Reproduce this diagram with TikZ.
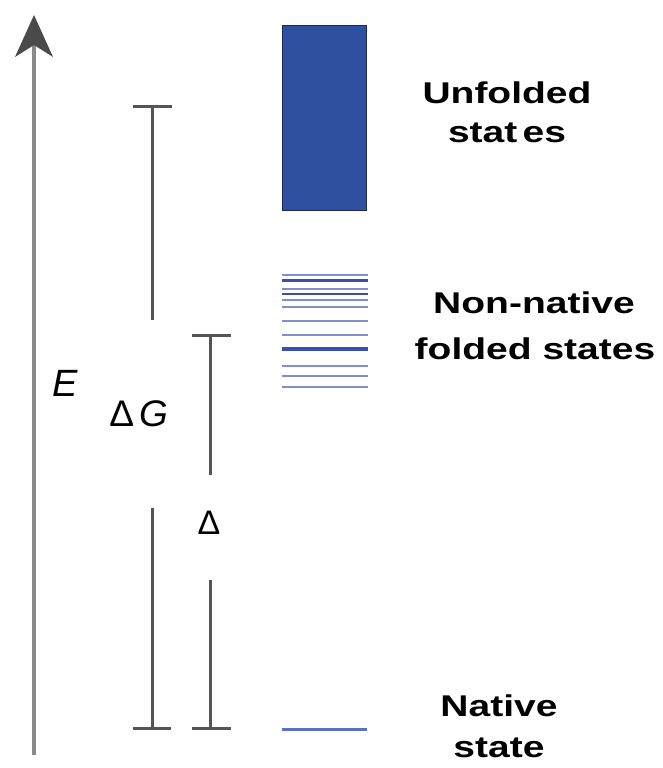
\documentclass[tikz,border=0pt]{standalone}
\usepackage{fontspec}
\setmainfont{Liberation Sans}
\definecolor{bargray}{HTML}{555555}
\definecolor{axgray}{HTML}{8A8A8A}
\definecolor{headgray}{HTML}{4A4A4A}
\definecolor{boxblue}{HTML}{2F4FA0}
\definecolor{boxedge}{HTML}{1E2A55}
\definecolor{lvlight}{HTML}{7F8FD0}
\definecolor{lvdark}{HTML}{3A50B0}
\definecolor{nativeblue}{HTML}{5A70C8}
\tikzset{
  bar/.style={draw=bargray, line width=3pt},
  lvl/.style={draw=lvlight, line width=2pt},
  lvlthick/.style={draw=lvdark, line width=3.2pt},
  lbl/.style={font=\fontsize{30}{36}\selectfont\bfseries, anchor=base, inner sep=0pt},
  sym/.style={font=\fontsize{37}{40}\selectfont, inner sep=0pt},
}
\newcommand{\wide}[1]{\scalebox{1.3}[1]{#1}}
\begin{document}
\begin{tikzpicture}[x=1pt,y=-1pt]
\useasboundingbox (0,0) rectangle (663,768);
% energy axis
\coordinate (axbot) at (34,755);
\coordinate (axtop) at (34,45);
\draw[draw=axgray, line width=3.5pt] (axbot) -- (axtop);
\fill[headgray] (34,15) -- (53,57) -- (34,45) -- (15,57) -- cycle;
\node[sym, font=\fontsize{38}{40}\selectfont\itshape] (E) at (65,383) {E};

% Delta G bar
\coordinate (g1) at (152,106);
\coordinate (g2) at (152,320);
\coordinate (g3) at (152,508);
\coordinate (g4) at (152,728);
\draw[bar] (133,106) -- (172,106);
\draw[bar] (g1) -- (g2);
\draw[bar] (g3) -- (g4);
\draw[bar] (133,728) -- (171,728);
\node[sym] (dG) at (139,414) {Δ\hspace{6pt}\textit{G}};

% Delta bar
\coordinate (d1) at (210,335);
\coordinate (d2) at (210,475);
\coordinate (d3) at (210,580);
\coordinate (d4) at (210,728);
\draw[bar] (192,335) -- (231,335);
\draw[bar] (d1) -- (d2);
\draw[bar] (d3) -- (d4);
\draw[bar] (192,728) -- (231,728);
\node[sym, font=\fontsize{34}{36}\selectfont] (dd) at (209,523) {Δ};

% unfolded box
\node[draw=boxedge, fill=boxblue, line width=1pt, inner sep=0pt,
      minimum width=84pt, minimum height=184pt] (box) at (324,118) {};

% non-native levels
\foreach \y in {275,289.3,300,306.7,321,335,365.7,376.3,386.7}
  \draw[lvl] (282,\y) -- (368,\y);
\draw[draw=lvdark, line width=1.8pt] (282,293.7) -- (368,293.7);
\foreach \y in {280.7,349}
  \draw[lvlthick] (282,\y) -- (368,\y);

% native level
\draw[draw=nativeblue, line width=3pt] (282,729) -- (367,729);

% labels
\node[lbl] (u1) at (507,103) {\wide{Unfolded}};
\node[lbl] (u2) at (507,142) {\wide{stat\hspace{4pt}es}};
\node[lbl] (n1) at (534,313) {\wide{Non-native}};
\node[lbl] (n2) at (535,359) {\wide{folded states}};
\node[lbl] (s1) at (499,716) {\wide{Native}};
\node[lbl] (s2) at (499,757) {\wide{state}};
\end{tikzpicture}
\end{document}
